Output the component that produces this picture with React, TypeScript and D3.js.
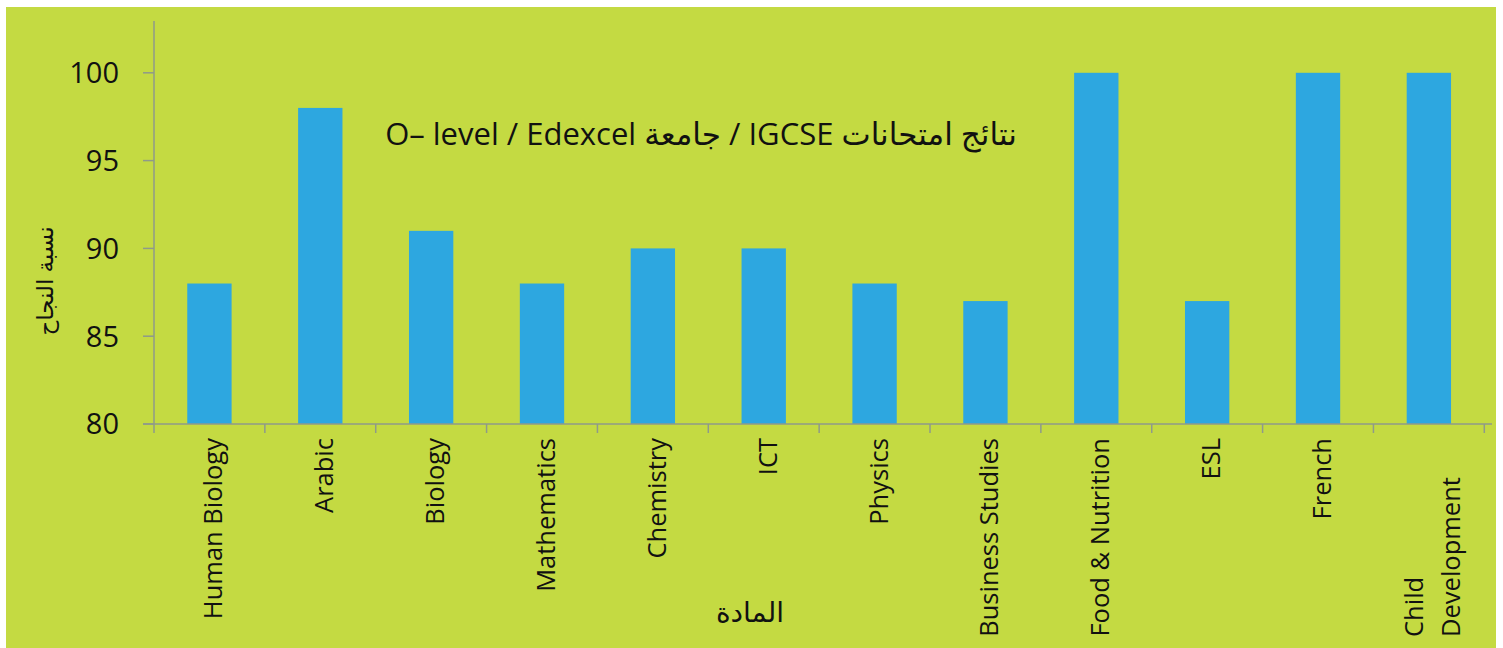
import React, { useRef, useEffect } from 'react';
import * as d3 from 'd3';

const subjects = [
    'Human Biology',
    'Arabic',
    'Biology',
    'Mathematics',
    'Chemistry',
    'ICT',
    'Physics',
    'Business Studies',
    'Food & Nutrition',
    'ESL',
    'French',
    'Child Development',
];
const passRates = [88, 98, 91, 88, 90, 90, 88, 87, 100, 87, 100, 100];
const yTicks = [80, 85, 90, 95, 100];

const chartTitle = 'O– level / Edexcel جامعة / IGCSE نتائج امتحانات';
const xTitle = 'المادة';
const yTitle = 'نسبة النجاح';

export default function App() {
    const svgRef = useRef<SVGSVGElement | null>(null);

    useEffect(() => {
        const width = 1503;
        const height = 648;
        const font = "'Open Sans', 'DejaVu Sans', sans-serif";
        const axisColor = '#8f9a8a';

        d3.select(svgRef.current).selectAll('*').remove();

        const svg = d3
            .select(svgRef.current)
            .attr('width', width)
            .attr('height', height);

        svg.append('rect')
            .attr('x', 6)
            .attr('y', 7)
            .attr('width', 1490)
            .attr('height', 641)
            .attr('fill', '#c4da42');

        const xScale = d3
            .scaleBand()
            .domain(subjects)
            .range([154, 1484.3])
            .paddingInner(0.6)
            .paddingOuter(0.3);

        const yScale = d3.scaleLinear().domain([80, 102.95]).range([424, 21]);

        // bars
        subjects.forEach((s, i) => {
            svg.append('rect')
                .attr('x', xScale(s)!)
                .attr('y', yScale(passRates[i]))
                .attr('width', xScale.bandwidth())
                .attr('height', yScale(80) - yScale(passRates[i]))
                .attr('fill', '#2da7e0');
        });

        // y axis
        svg.append('line')
            .attr('x1', 154)
            .attr('x2', 154)
            .attr('y1', yScale(102.95))
            .attr('y2', yScale(80))
            .attr('stroke', axisColor)
            .attr('stroke-width', 1.5);

        yTicks.forEach((t) => {
            svg.append('line')
                .attr('x1', 143)
                .attr('x2', 154)
                .attr('y1', yScale(t))
                .attr('y2', yScale(t))
                .attr('stroke', axisColor)
                .attr('stroke-width', 1.5);
            svg.append('text')
                .attr('x', 119)
                .attr('y', yScale(t))
                .attr('dy', '0.36em')
                .attr('text-anchor', 'end')
                .attr('font-family', font)
                .attr('font-size', 29)
                .attr('fill', '#111')
                .text(t);
        });

        // x axis
        svg.append('line')
            .attr('x1', 143)
            .attr('x2', 1492)
            .attr('y1', yScale(80))
            .attr('y2', yScale(80))
            .attr('stroke', axisColor)
            .attr('stroke-width', 1.5);

        const step = xScale.step();
        const x0 = xScale.range()[0];
        d3.range(subjects.length + 1).forEach((i) => {
            const x = x0 + i * step;
            svg.append('line')
                .attr('x1', x)
                .attr('x2', x)
                .attr('y1', yScale(80))
                .attr('y2', yScale(80) + 9)
                .attr('stroke', axisColor)
                .attr('stroke-width', 1.5);
        });

        // category labels, rotated
        subjects.forEach((s) => {
            const cx = xScale(s)! + xScale.bandwidth() / 2;
            const words = s === 'Child Development' ? s.split(' ') : [s];
            if (words.length === 1) {
                svg.append('text')
                    .attr('transform', `translate(${cx + 13},438) rotate(-90)`)
                    .attr('text-anchor', 'end')
                    .attr('font-family', font)
                    .attr('font-size', 25.5)
                    .attr('fill', '#111')
                    .text(s);
            } else {
                // wrapped label: lines share their start at the bottom
                words.forEach((w, j) => {
                    svg.append('text')
                        .attr('transform', `translate(${cx - 6 + j * 37},637) rotate(-90)`)
                        .attr('text-anchor', 'start')
                        .attr('font-family', font)
                        .attr('font-size', 25.5)
                        .attr('fill', '#111')
                        .text(w);
                });
            }
        });

        // titles
        svg.append('text')
            .attr('x', 701)
            .attr('y', 145)
            .attr('text-anchor', 'middle')
            .attr('font-family', font)
            .attr('font-size', 31)
            .attr('fill', '#111')
            .text(chartTitle);

        svg.append('text')
            .attr('x', 750)
            .attr('y', 622)
            .attr('text-anchor', 'middle')
            .attr('font-family', font)
            .attr('font-size', 28)
            .attr('fill', '#111')
            .text(xTitle);

        svg.append('text')
            .attr('transform', 'translate(53,281) rotate(-90)')
            .attr('text-anchor', 'middle')
            .attr('font-family', font)
            .attr('font-size', 23)
            .attr('fill', '#111')
            .text(yTitle);
    }, []);

    return (
        <svg
            ref={svgRef}
            style={{ position: 'absolute', left: 0, top: 0, display: 'block' }}
        ></svg>
    );
}
